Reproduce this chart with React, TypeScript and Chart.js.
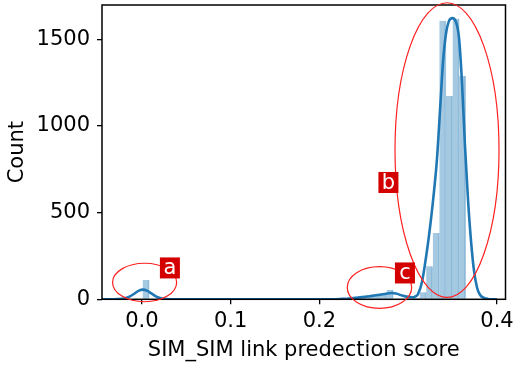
import { useEffect, useRef } from 'react';
import { Chart, registerables } from 'chart.js';

Chart.register(...registerables);

// Histogram bins (49 equal bins)
const BIN_START = 0.0008;
const BIN_WIDTH = 0.00743;
const binCounts = [
  111, 0, 0, 0, 0, 0, 0, 0, 0, 0,
  0, 0, 0, 0, 0, 0, 0, 0, 0, 0,
  0, 0, 0, 0, 0, 0, 0, 0, 0, 0,
  0, 0, 3, 8, 25, 27, 29, 54, 5, 2,
  3, 8, 40, 190, 383, 1607, 1173, 1618, 1289,
];
const binCenters = binCounts.map((_, i) => BIN_START + (i + 0.5) * BIN_WIDTH);

// KDE curve (scaled to counts)
const kdeX = [
  -0.045, -0.035, -0.028, -0.0192, -0.0135, -0.0079, -0.0034, 0.0011, 0.0056, 0.0101,
  0.0158, 0.0214, 0.028, 0.036, 0.1, 0.2, 0.215, 0.2231, 0.2344, 0.2456,
  0.2569, 0.2682, 0.2749, 0.2817, 0.2862, 0.293, 0.2997, 0.3042, 0.3077, 0.311,
  0.3155, 0.3211, 0.3256, 0.329, 0.3324, 0.3363, 0.3392, 0.3425, 0.3459, 0.3499,
  0.3538, 0.3572, 0.3606, 0.3639, 0.3673, 0.3707, 0.3741, 0.3775, 0.3808, 0.3854,
  0.3899, 0.3944, 0.4,
];
const kdeY = [
  0, 0, 1, 6, 17, 35, 50, 56, 50, 36,
  17, 6, 1.5, 0, 0, 0, 0.5, 2, 5, 11,
  18, 26, 32, 36, 33, 22, 14, 12, 16, 30,
  100, 280, 460, 620, 810, 1130, 1370, 1530, 1605, 1622,
  1600, 1510, 1250, 890, 580, 340, 165, 68, 26, 8,
  2, 0.5, 0,
];

const xTickValues = [0.0, 0.1, 0.2, 0.4];
const yTickValues = [0, 500, 1000, 1500];

const X_MIN = -0.045;
const X_MAX = 0.4096;
const Y_MIN = 0;
const Y_MAX = 1698;

// Annotation ellipses and labels (data coordinates)
const ellipses = [
  { cx: 0.003, cy: 97, rx: 0.0361, ry: 111 },
  { cx: 0.3437, cy: 861, rx: 0.0586, ry: 850 },
  { cx: 0.2676, cy: 68, rx: 0.0363, ry: 120 },
];
const labels = [
  { text: 'a', x: 0.0315, y: 181 },
  { text: 'b', x: 0.2777, y: 674 },
  { text: 'c', x: 0.2963, y: 152 },
];

const FONT = '"DejaVu Sans", "Liberation Sans", sans-serif';
const FS = 21;

const overlayPlugin = {
  id: 'overlay',
  afterDraw(chart: any) {
    const { ctx, chartArea, scales } = chart;
    const xs = scales.x;
    const ys = scales.y;
    ctx.save();
    // frame
    ctx.strokeStyle = '#000';
    ctx.lineWidth = 1.5;
    ctx.strokeRect(chartArea.left, chartArea.top, chartArea.right - chartArea.left, chartArea.bottom - chartArea.top);
    // ellipses
    ctx.strokeStyle = '#ff2020';
    ctx.lineWidth = 1.2;
    ellipses.forEach((e) => {
      const cx = xs.getPixelForValue(e.cx);
      const cy = ys.getPixelForValue(e.cy);
      const rx = Math.abs(xs.getPixelForValue(e.cx + e.rx) - cx);
      const ry = Math.abs(ys.getPixelForValue(e.cy + e.ry) - cy);
      ctx.beginPath();
      ctx.ellipse(cx, cy, rx, ry, 0, 0, Math.PI * 2);
      ctx.stroke();
    });
    // labels
    ctx.font = `${FS}px ${FONT}`;
    ctx.textAlign = 'center';
    ctx.textBaseline = 'middle';
    labels.forEach((l) => {
      const px = xs.getPixelForValue(l.x);
      const py = ys.getPixelForValue(l.y);
      const w = 20;
      const h = 21;
      ctx.fillStyle = '#d40000';
      ctx.fillRect(px - w / 2, py - h / 2, w, h);
      ctx.fillStyle = '#ffffff';
      ctx.fillText(l.text, px, py + 1);
    });
    ctx.restore();
  },
};

export default function App() {
  const ref = useRef<HTMLCanvasElement | null>(null);

  useEffect(() => {
    if (!ref.current) return;
    const chart = new Chart(ref.current, {
      type: 'bar',
      data: {
        datasets: [
          {
            type: 'line',
            data: kdeX.map((x, i) => ({ x, y: kdeY[i] })),
            borderColor: '#1f77b4',
            borderWidth: 2.6,
            pointRadius: 0,
            cubicInterpolationMode: 'monotone',
            fill: false,
            order: 0,
          } as any,
          {
            type: 'bar',
            data: binCenters.map((x, i) => ({ x, y: binCounts[i] })),
            backgroundColor: 'rgba(31,119,180,0.4)',
            borderColor: 'rgba(31,119,180,0.35)',
            borderWidth: { left: 0, right: 1, top: 0, bottom: 0 },
            borderSkipped: false,
            barPercentage: 1,
            categoryPercentage: 1,
            order: 1,
          } as any,
        ],
      },
      options: {
        animation: false,
        responsive: false,
        layout: { padding: { top: 5, right: 7.5, left: 0, bottom: 0 } },
        plugins: { legend: { display: false }, tooltip: { enabled: false } },
        scales: {
          x: {
            type: 'linear',
            min: X_MIN,
            max: X_MAX,
            offset: false,
            afterBuildTicks: (s: any) => {
              s.ticks = xTickValues.map((v) => ({ value: v }));
            },
            afterFit: (s: any) => {
              s.height = 65.7;
              s.paddingLeft = 0;
              s.paddingRight = 0;
            },
            ticks: {
              font: { family: FONT, size: FS },
              color: '#000',
              padding: 4.6,
              maxRotation: 0,
              autoSkip: false,
              callback: (v: any) => Number(v).toFixed(1),
            },
            grid: { display: true, drawOnChartArea: false, drawTicks: true, tickLength: 5, color: '#000', lineWidth: 1.3, offset: false },
            border: { display: false },
            title: {
              display: true,
              text: 'SIM_SIM link predection score',
              font: { family: FONT, size: FS },
              color: '#000',
              padding: { top: 0, bottom: 2 },
            },
          },
          y: {
            type: 'linear',
            min: Y_MIN,
            max: Y_MAX,
            afterBuildTicks: (s: any) => {
              s.ticks = yTickValues.map((v) => ({ value: v }));
            },
            afterFit: (s: any) => {
              s.width = 102;
              s.paddingTop = 0;
              s.paddingBottom = 0;
            },
            ticks: {
              font: { family: FONT, size: FS },
              color: '#000',
              padding: 7,
              autoSkip: false,
              callback: (v: any) => String(v),
            },
            grid: { display: true, drawOnChartArea: false, drawTicks: true, tickLength: 5, color: '#000', lineWidth: 1.3 },
            border: { display: false },
            title: {
              display: true,
              text: 'Count',
              font: { family: FONT, size: FS },
              color: '#000',
              padding: { top: 4.6, bottom: 0 },
            },
          },
        },
      },
      plugins: [overlayPlugin],
    });
    return () => chart.destroy();
  }, []);

  return (
    <div style={{ position: 'fixed', left: 0, top: 0, width: 513, height: 365, background: '#fff' }}>
      <canvas ref={ref} width={513} height={365} style={{ display: 'block', width: 513, height: 365 }} />
    </div>
  );
}
